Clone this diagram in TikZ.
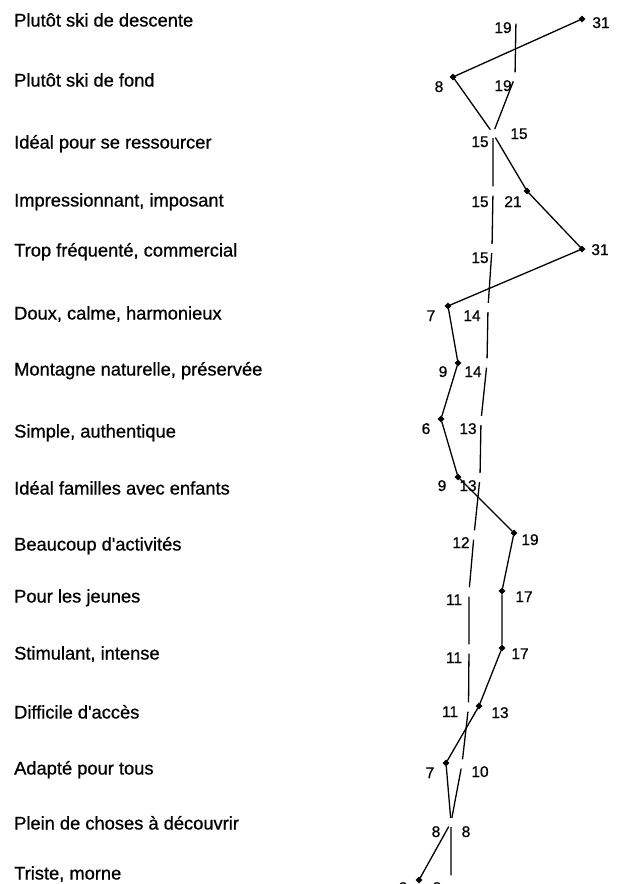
\documentclass[tikz,border=0pt]{standalone}
\usepackage{fontspec}
\setmainfont{Liberation Sans}
\newfontfamily\heavyfont[FakeBold=0.7]{Liberation Sans}
\usetikzlibrary{shapes.geometric}
\begin{document}
\begin{tikzpicture}[x=1pt,y=-1pt,
  item/.style={anchor=base west, inner sep=0pt, font=\heavyfont\fontsize{18.3}{20}\selectfont},
  val/.style={anchor=base, inner sep=0pt, font=\heavyfont\fontsize{15.5}{18}\selectfont},
  mk/.style={diamond, fill=black, draw=black, inner sep=0pt, minimum size=6.5pt},
  gp/.style={circle, inner sep=0pt, minimum size=9pt},
  ln/.style={line width=1.3pt, line join=round}]
\clip (0,0) rectangle (624,884);
% item labels
\foreach \t/\y [count=\i] in {Plutôt ski de descente/20, Plutôt ski de fond/80,
  Idéal pour se ressourcer/142, {Impressionnant, imposant}/200,
  {Trop fréquenté, commercial}/250, {Doux, calme, harmonieux}/313,
  {Montagne naturelle, préservée}/369, {Simple, authentique}/431,
  Idéal familles avec enfants/488, Beaucoup d'activités/544,
  Pour les jeunes/596, {Stimulant, intense}/653, Difficile d'accès/712,
  Adapté pour tous/768, Plein de choses à découvrir/823, {Triste, morne}/873}
  \node[item] (l\i) at (14,\y+6.5) {\t};
% series A points (diamonds)
\foreach \n/\x/\y in {1/582/19, 2/453/77, 4/527/191, 5/582/249, 6/448/306,
  7/458/363, 8/441/419, 9/458/477, 10/514/533, 11/502/591, 12/502/648,
  13/479/706, 14/446/763, 16/419/880}
  \node[mk] (a\n) at (\x,\y) {};
% series B points (gaps)
\foreach \n/\x/\y in {1/516/19, 2/515/77, 4/493/191, 5/492/248.5, 6/488/307.5,
  7/487/363, 8/481/420.5, 9/480/477.5, 10/474/535, 11/469/592, 12/469/649,
  13/468.5/707, 14/462/764, 16/451/880}
  \node[gp] (b\n) at (\x,\y) {};
% shared points
\node[gp] (s3) at (493,133.5) {};
\node[gp] (s15) at (451,822.5) {};
% profiles
\draw[ln] (a1) -- (a2) -- (s3) -- (a4) -- (a5) -- (a6) -- (a7) -- (a8) -- (a9)
  -- (a10) -- (a11) -- (a12) -- (a13) -- (a14) -- (s15) -- (a16);
\draw[ln] (b1) -- (b2) -- (s3) -- (b4) -- (b5) -- (b6) -- (b7) -- (b8) -- (b9)
  -- (b10) -- (b11) -- (b12) -- (b13) -- (b14) -- (s15) -- (b16);
% values A
\foreach \v/\x/\y [count=\i] in {31/601/28, 8/439/92, 15/519/139, 21/513/207,
  31/600/255, 7/431/321, 9/443/377, 6/426/434, 9/442/491, 19/530/545,
  17/524/602, 17/520/659, 13/500/718, 7/430/778, 8/466/837, 2/403/893}
  \node[val] (va\i) at (\x,\y) {\v};
% values B
\foreach \v/\x/\y [count=\i] in {19/503/33, 19/503/91, 15/480/147, 15/480/207,
  15/480/263, 14/472/321, 14/473/377, 13/468/434, 13/468/491, 12/461/548,
  11/454/605, 11/454/663, 11/450/717, 10/480/777, 8/436/837, 8/437/893}
  \node[val] (vb\i) at (\x,\y) {\v};
\end{tikzpicture}
\end{document}
